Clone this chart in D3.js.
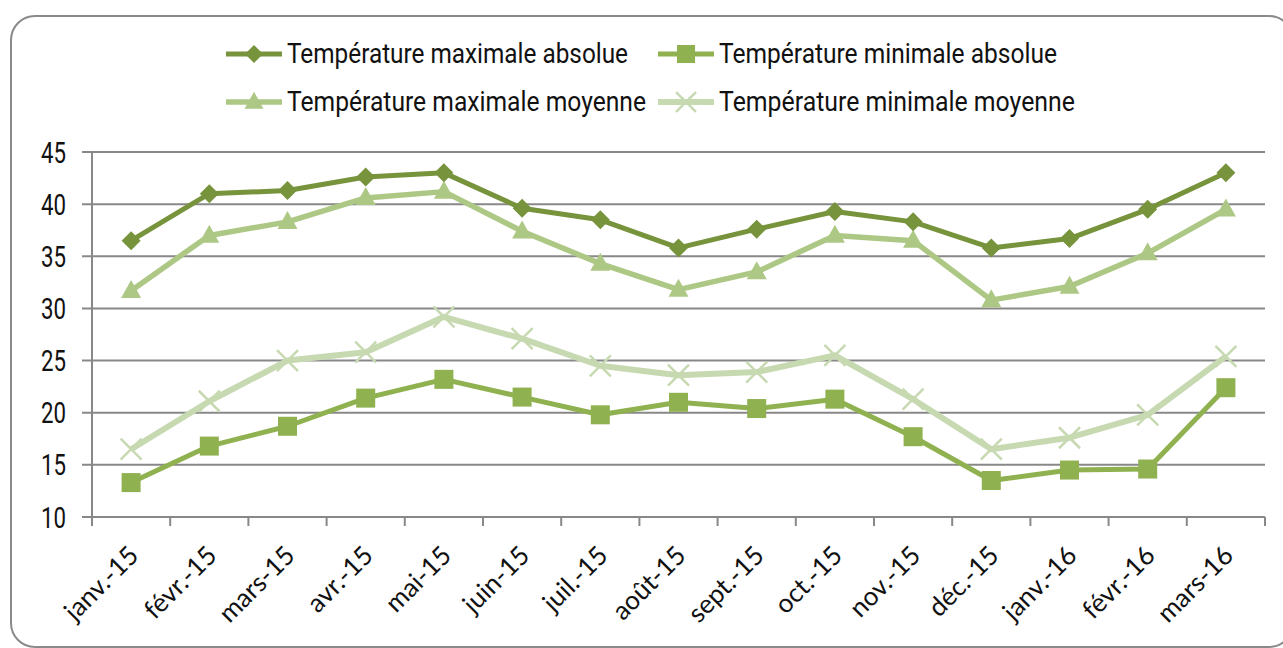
<!DOCTYPE html>
<html>
<head>
<meta charset="utf-8">
<script src="https://cdn.jsdelivr.net/npm/d3@7.9.0/dist/d3.min.js"></script>
<style>
  html, body { margin: 0; padding: 0; background: #fff; }
  svg { display: block; }
</style>
</head>
<body>
<svg id="chart" width="1283" height="648"></svg>
<script>
const months = ['janv.-15', 'févr.-15', 'mars-15', 'avr.-15', 'mai-15', 'juin-15', 'juil.-15',
  'août-15', 'sept.-15', 'oct.-15', 'nov.-15', 'déc.-15', 'janv.-16', 'févr.-16', 'mars-16'];

const maxAbsolue = [36.5, 41.0, 41.3, 42.6, 43.0, 39.6, 38.5, 35.8, 37.6, 39.3, 38.3, 35.8, 36.7, 39.5, 43.0];
const minAbsolue = [13.3, 16.8, 18.7, 21.4, 23.2, 21.5, 19.8, 21.0, 20.4, 21.3, 17.7, 13.5, 14.5, 14.6, 22.4];
const maxMoyenne = [31.7, 37.0, 38.3, 40.6, 41.2, 37.4, 34.3, 31.8, 33.5, 37.0, 36.5, 30.8, 32.1, 35.3, 39.5];
const minMoyenne = [16.5, 21.1, 25.0, 25.8, 29.2, 27.1, 24.5, 23.6, 23.9, 25.5, 21.3, 16.5, 17.6, 19.8, 25.4];

const yTicks = [10, 15, 20, 25, 30, 35, 40, 45];

const series = [
  { name: 'Température maximale absolue', values: maxAbsolue, color: '#77933c', marker: 'diamond', width: 5 },
  { name: 'Température minimale absolue', values: minAbsolue, color: '#8fb150', marker: 'square', width: 5 },
  { name: 'Température maximale moyenne', values: maxMoyenne, color: '#adc885', marker: 'triangle', width: 5.5 },
  { name: 'Température minimale moyenne', values: minMoyenne, color: '#c7d9b1', marker: 'cross', width: 6 }
];

const svg = d3.select('#chart');
const narrow = '"Liberation Sans Narrow", "Arial Narrow", Roboto, sans-serif';
const gridColor = '#888888';

// outer frame (right side runs off the picture)
svg.append('rect')
  .attr('x', 11).attr('y', 16)
  .attr('width', 1282).attr('height', 631)
  .attr('rx', 24)
  .attr('fill', '#fff')
  .attr('stroke', '#8a8a8a')
  .attr('stroke-width', 2);

const x = d3.scaleBand().domain(months).range([92, 1265]);
const y = d3.scaleLinear().domain([10, 45]).range([517, 152]);
const cx = (m) => x(m) + x.bandwidth() / 2;

// gridlines
svg.append('g')
  .selectAll('line')
  .data(yTicks)
  .join('line')
  .attr('x1', 82).attr('x2', 1265)
  .attr('y1', (d) => y(d)).attr('y2', (d) => y(d))
  .attr('stroke', gridColor)
  .attr('stroke-width', 2);

// y axis line
svg.append('line')
  .attr('x1', 92).attr('x2', 92)
  .attr('y1', y(45)).attr('y2', y(10))
  .attr('stroke', gridColor).attr('stroke-width', 2);

// y tick labels
svg.append('g')
  .selectAll('text')
  .data(yTicks)
  .join('text')
  .attr('x', 41)
  .attr('y', (d) => y(d) + 10.5)
  .attr('font-family', narrow)
  .attr('font-size', 29)
  .attr('fill', '#111')
  .attr('textLength', 25)
  .attr('lengthAdjust', 'spacingAndGlyphs')
  .text((d) => d);

// x ticks at band boundaries
const xTickPos = months.map((m) => x(m)).concat([x.range()[1]]);
svg.append('g')
  .selectAll('line')
  .data(xTickPos)
  .join('line')
  .attr('x1', (d) => d).attr('x2', (d) => d)
  .attr('y1', 517).attr('y2', 526)
  .attr('stroke', gridColor).attr('stroke-width', 2);

// x labels, rotated
svg.append('g')
  .selectAll('text')
  .data(months)
  .join('text')
  .attr('transform', (d) => `translate(${cx(d) + 9},${557}) rotate(-45)`)
  .attr('text-anchor', 'end')
  .attr('font-family', 'Lato, "Open Sans", sans-serif')
  .attr('font-size', 26)
  .attr('fill', '#111')
  .text((d) => d);

function drawMarker(g, type, color, px, py, scale = 1) {
  if (type === 'diamond') {
    const r = 9.5 * scale;
    g.append('path')
      .attr('d', `M${px},${py - r}L${px + r},${py}L${px},${py + r}L${px - r},${py}Z`)
      .attr('fill', color);
  } else if (type === 'square') {
    const s = 19 * scale;
    g.append('rect')
      .attr('x', px - s / 2).attr('y', py - s / 2)
      .attr('width', s).attr('height', s)
      .attr('fill', color);
  } else if (type === 'triangle') {
    const w = 20 * scale, h = 18 * scale;
    g.append('path')
      .attr('d', `M${px},${py - h * 0.6}L${px + w / 2},${py + h * 0.4}L${px - w / 2},${py + h * 0.4}Z`)
      .attr('fill', color);
  } else if (type === 'cross') {
    const r = 10.5 * scale;
    g.append('path')
      .attr('d', `M${px - r},${py - r}L${px + r},${py + r}M${px - r},${py + r}L${px + r},${py - r}`)
      .attr('stroke', color)
      .attr('stroke-width', 2.5);
  }
}

// series lines + markers (reverse order so the darkest sits on top)
const line = d3.line()
  .x((d, i) => cx(months[i]))
  .y((d) => y(d));

[...series].reverse().forEach((s) => {
  const g = svg.append('g');
  g.append('path')
    .datum(s.values)
    .attr('d', line)
    .attr('fill', 'none')
    .attr('stroke', s.color)
    .attr('stroke-width', s.width)
    .attr('stroke-linejoin', 'round');
  s.values.forEach((v, i) => drawMarker(g, s.marker, s.color, cx(months[i]), y(v)));
});

// legend
const legendPos = [
  { lx: 226, ly: 54, len: 341 },
  { lx: 658, ly: 54, len: 338 },
  { lx: 226, ly: 102, len: 359 },
  { lx: 658, ly: 102, len: 356 }
];

series.forEach((s, i) => {
  const p = legendPos[i];
  const g = svg.append('g');
  g.append('line')
    .attr('x1', p.lx).attr('x2', p.lx + 56)
    .attr('y1', p.ly).attr('y2', p.ly)
    .attr('stroke', s.color)
    .attr('stroke-width', s.width);
  drawMarker(g, s.marker, s.color, p.lx + 28, p.ly, 0.95);
  g.append('text')
    .attr('x', p.lx + 61)
    .attr('y', p.ly + 9)
    .attr('font-family', narrow)
    .attr('font-size', 27)
    .attr('fill', '#111')
    .attr('textLength', p.len)
    .attr('lengthAdjust', 'spacingAndGlyphs')
    .text(s.name);
});
</script>
</body>
</html>
